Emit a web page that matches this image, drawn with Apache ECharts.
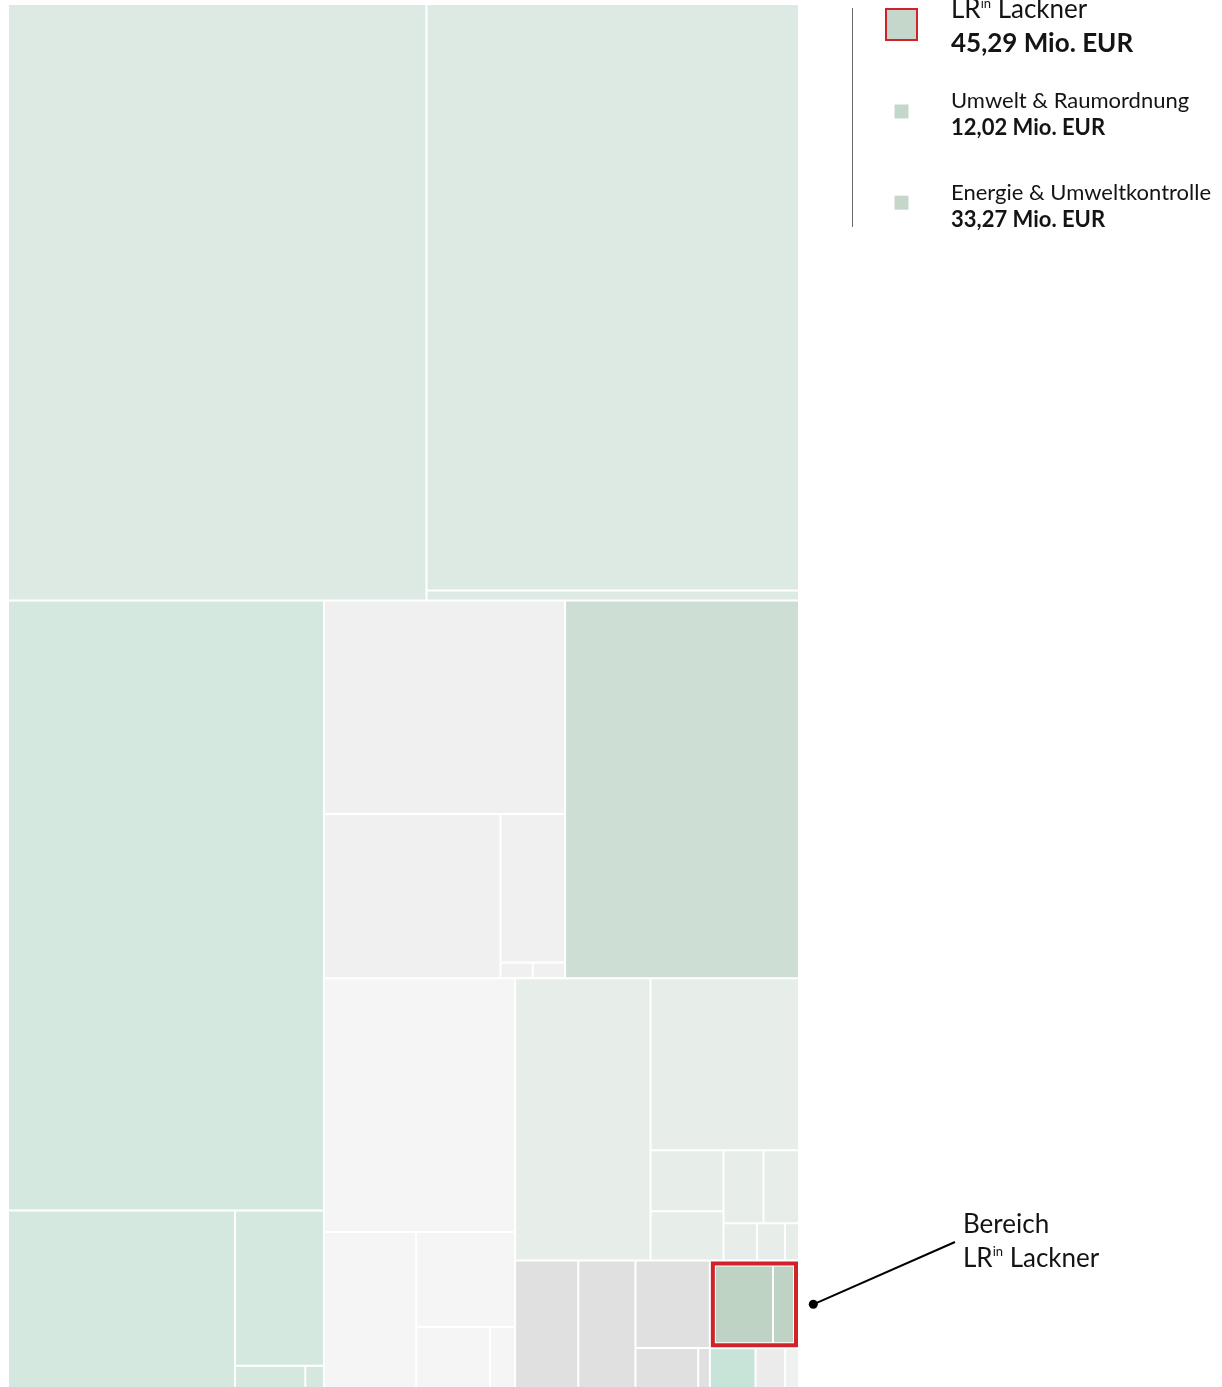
<!DOCTYPE html>
<html>
<head>
<meta charset="utf-8">
<script src="https://cdn.jsdelivr.net/npm/echarts@6/dist/echarts.min.js"></script>
<style>
  html, body { margin: 0; padding: 0; background: #ffffff; }
  #chart { width: 1222px; height: 1387px; }
</style>
</head>
<body>
<div id="chart"></div>
<script>
// ---------- DATA (Mio. EUR, estimated from the rectangle areas; listed in layout order) ----------
const topBandValues     = [1443.6, 1263.4, 21.5];
const leftColumnValues  = [1114.7, 233.0, 80.0, 9.0, 2.4];
const grayBlockValues   = [297.5, 167.4, 55.4, 2.9, 2.9];
const greenBlockValues  = [510.8];
const lightBlockValues  = [280.5, 83.0, 54.4, 26.1, 8.8];
const paleBlockValues   = [221.0, 147.7, 25.8, 20.7];
const palePairValues    = [16.9, 15.0];
const paleTrioValues    = [7.2, 6.0, 3.0];
const midGrayValues     = [46.6, 42.2, 37.7, 14.5, 2.7];
const lacknerNames      = ['Energie & Umweltkontrolle', 'Umwelt & Raumordnung'];
const lacknerValues     = [33.27, 12.02];
const smallValues       = [10.5, 6.8, 3.2];

// ---------- STYLE ----------
const FONT = 'Lato, "Open Sans", sans-serif';
const TXT = '#141414';
const RED = '#d0222a';
const LEGEND_FILL = '#c5d6ca';

function leaves(prefix, values, color) {
  return values.map(function (v, i) {
    return { name: prefix + ' ' + (i + 1), value: v, itemStyle: { color: color } };
  });
}
function fmt(v) { return v.toFixed(2).replace('.', ',') + ' Mio. EUR'; }

const lacknerTotal = lacknerValues.reduce(function (a, b) { return a + b; }, 0);

const treeData = [
  { name: 'Gruppe 1', children: leaves('Gruppe 1', topBandValues, '#dde9e3') },
  { name: 'Gruppe 2', children: leaves('Gruppe 2', leftColumnValues, '#d5e8df') },
  { name: 'Gruppe 3', children: leaves('Gruppe 3', grayBlockValues, '#f0f0f0') },
  { name: 'Gruppe 4', value: greenBlockValues[0], itemStyle: { color: '#cddfd5' } },
  { name: 'Gruppe 5', children: leaves('Gruppe 5', lightBlockValues, '#f5f5f5') },
  { name: 'Gruppe 6', children: leaves('Gruppe 6', paleBlockValues, '#e7eeea').concat([
      { name: 'Gruppe 6 A', children: leaves('Gruppe 6 A', palePairValues, '#e7eeea') },
      { name: 'Gruppe 6 B', children: leaves('Gruppe 6 B', paleTrioValues, '#e7eeea') }
  ]) },
  { name: 'Gruppe 7', children: leaves('Gruppe 7', midGrayValues, '#e0e0e0') },
  { name: 'LRin Lackner',
    itemStyle: { borderWidth: 4, borderColor: RED, gapWidth: 0 },
    children: lacknerNames.map(function (n, i) {
      return { name: n, value: lacknerValues[i],
               itemStyle: { color: '#bfd3c5', borderWidth: 1, borderColor: '#ffffff' } };
    }) },
  { name: 'Gruppe 9',  value: smallValues[0], itemStyle: { color: '#c8e3d8' } },
  { name: 'Gruppe 10', value: smallValues[1], itemStyle: { color: '#ebebeb' } },
  { name: 'Gruppe 11', value: smallValues[2], itemStyle: { color: '#eef1ef' } }
];

// legend entries (children of the Lackner area, smaller one first as in the original)
const legendOrder = [1, 0];
const legendGraphics = [];
legendOrder.forEach(function (idx, k) {
  const baseY = 100.8 + k * 91.7;
  legendGraphics.push({ type: 'rect', silent: true,
    shape: { x: 894.5, y: 104.5 + k * 91.2, width: 14, height: 14 }, style: { fill: LEGEND_FILL } });
  legendGraphics.push({ type: 'text', silent: true, x: 951, y: baseY,
    style: { text: lacknerNames[idx], fontFamily: FONT, fontSize: 22, fill: TXT, verticalAlign: 'middle', align: 'left' } });
  legendGraphics.push({ type: 'text', silent: true, x: 951, y: baseY + 27,
    style: { text: fmt(lacknerValues[idx]), fontFamily: FONT, fontSize: 22, fontWeight: 'bold', fill: TXT, verticalAlign: 'middle', align: 'left' } });
});

const richLR = {
  a: { fontFamily: FONT, fontSize: 26, fill: TXT },
  s: { fontFamily: FONT, fontSize: 13, fill: TXT, verticalAlign: 'top' }
};

const chart = echarts.init(document.getElementById('chart'), null, { renderer: 'canvas' });
chart.setOption({
  animation: false,
  backgroundColor: '#ffffff',
  series: [{
    type: 'treemap',
    left: 9, top: 5, width: 789, height: 1382,
    squareRatio: 0.86,
    sort: false,
    roam: false,
    nodeClick: false,
    silent: true,
    breadcrumb: { show: false },
    label: { show: false },
    upperLabel: { show: false },
    itemStyle: { borderWidth: 0, gapWidth: 2, borderColor: '#ffffff' },
    data: treeData
  }],
  graphic: [
    { type: 'line', silent: true, shape: { x1: 852.5, y1: 8, x2: 852.5, y2: 227 }, style: { stroke: '#6b6b6b', lineWidth: 1 } },
    { type: 'rect', silent: true, shape: { x: 886, y: 9, width: 31, height: 31 }, style: { fill: LEGEND_FILL, stroke: RED, lineWidth: 2 } },
    { type: 'text', silent: true, x: 951, y: 10,
      style: { text: '{a|LR}{s|in}{a| Lackner}', rich: richLR, verticalAlign: 'middle', align: 'left' } },
    { type: 'text', silent: true, x: 951, y: 44,
      style: { text: fmt(lacknerTotal), fontFamily: FONT, fontSize: 26, fontWeight: 'bold', fill: TXT, verticalAlign: 'middle', align: 'left' } }
  ].concat(legendGraphics).concat([
    { type: 'line', silent: true, shape: { x1: 813.3, y1: 1304.3, x2: 955, y2: 1242 }, style: { stroke: '#000000', lineWidth: 2 } },
    { type: 'circle', silent: true, shape: { cx: 813.3, cy: 1304.3, r: 4.5 }, style: { fill: '#000000' } },
    { type: 'text', silent: true, x: 963, y: 1225,
      style: { text: 'Bereich', fontFamily: FONT, fontSize: 26, fill: TXT, verticalAlign: 'middle', align: 'left' } },
    { type: 'text', silent: true, x: 963, y: 1258.4,
      style: { text: '{a|LR}{s|in}{a| Lackner}', rich: richLR, verticalAlign: 'middle', align: 'left' } }
  ])
});
</script>
</body>
</html>
